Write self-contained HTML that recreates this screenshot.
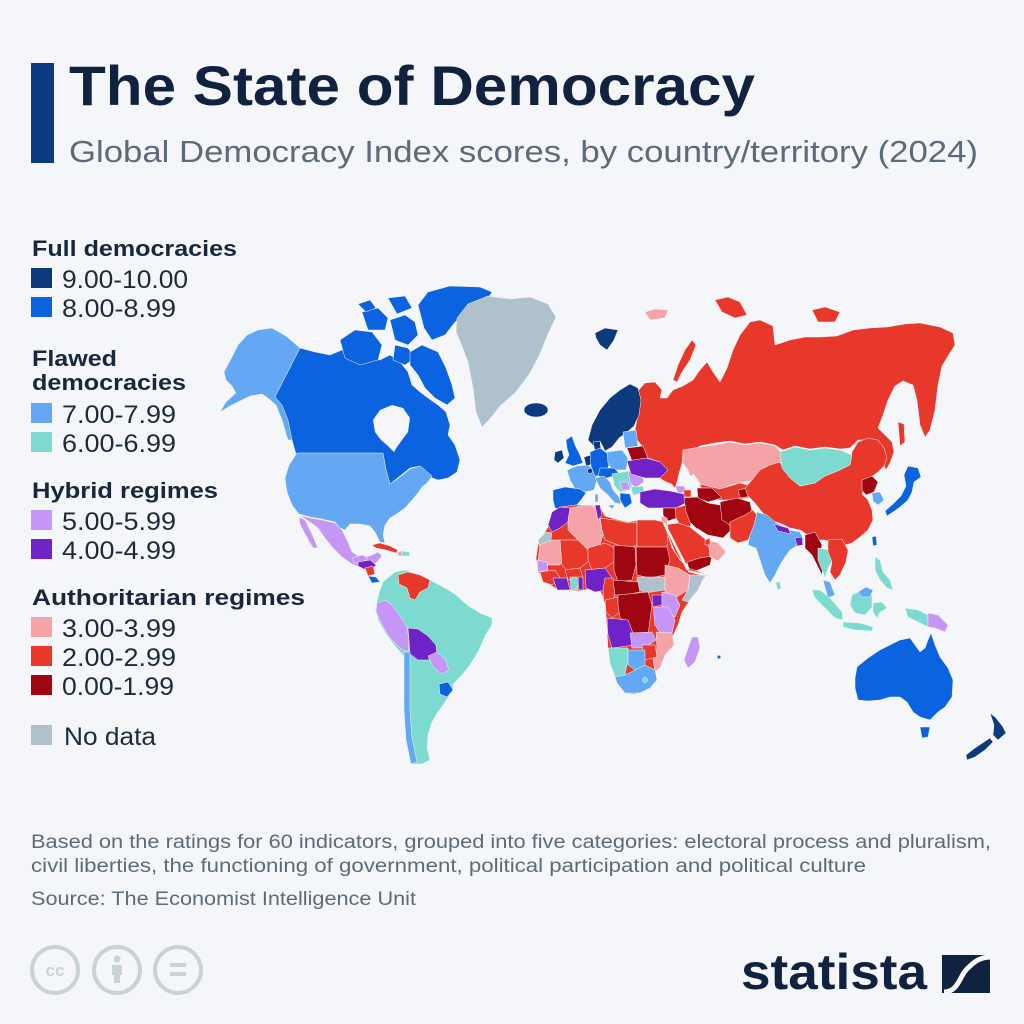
<!DOCTYPE html>
<html><head><meta charset="utf-8"><style>
html,body{margin:0;padding:0;background:#f4f6f9;}
svg{display:block;}
.a{fill:#0d3a7d}.b{fill:#0b63e0}.c{fill:#64a8f3}.d{fill:#7ddad0}.e{fill:#c596f5}.f{fill:#6f22c6}.g{fill:#f4a4a7}.h{fill:#e8382b}.i{fill:#9f0612}.n{fill:#afc1cc}.w{fill:#f4f6f9}
text{font-family:"Liberation Sans",Arial,sans-serif;}
</style></head><body>
<svg width="1024" height="1024" viewBox="0 0 1024 1024" xmlns="http://www.w3.org/2000/svg">
<rect width="1024" height="1024" fill="#f4f6f9"/>
<!-- header -->
<rect x="31" y="63" width="23" height="100" fill="#0c3a7e"/>
<text x="69" y="105" font-size="56" font-weight="bold" fill="#11223f" textLength="686" lengthAdjust="spacingAndGlyphs">The State of Democracy</text>
<text x="69" y="162" font-size="31" fill="#5b6b7c" textLength="909" lengthAdjust="spacingAndGlyphs">Global Democracy Index scores, by country/territory (2024)</text>

<!-- legend -->
<g font-weight="bold" font-size="22" fill="#18273b">
<text x="32" y="256" textLength="205" lengthAdjust="spacingAndGlyphs">Full democracies</text>
<text x="32" y="366" textLength="85" lengthAdjust="spacingAndGlyphs">Flawed</text>
<text x="32" y="390" textLength="154" lengthAdjust="spacingAndGlyphs">democracies</text>
<text x="32" y="498" textLength="186" lengthAdjust="spacingAndGlyphs">Hybrid regimes</text>
<text x="32" y="605" textLength="273" lengthAdjust="spacingAndGlyphs">Authoritarian regimes</text>
</g>
<g>
<rect x="31" y="268" width="21" height="20" class="a"/>
<rect x="31" y="297" width="21" height="20" class="b"/>
<rect x="31" y="403" width="21" height="20" class="c"/>
<rect x="31" y="432" width="21" height="20" class="d"/>
<rect x="31" y="510" width="21" height="20" class="e"/>
<rect x="31" y="539" width="21" height="20" class="f"/>
<rect x="31" y="617" width="21" height="20" class="g"/>
<rect x="31" y="646" width="21" height="20" class="h"/>
<rect x="31" y="675" width="21" height="20" class="i"/>
<rect x="31" y="725" width="21" height="20" class="n"/>
</g>
<g font-size="25" fill="#1c2b3c">
<text x="62" y="288" textLength="126" lengthAdjust="spacingAndGlyphs">9.00-10.00</text>
<text x="62" y="317" textLength="114" lengthAdjust="spacingAndGlyphs">8.00-8.99</text>
<text x="62" y="423" textLength="114" lengthAdjust="spacingAndGlyphs">7.00-7.99</text>
<text x="62" y="452" textLength="114" lengthAdjust="spacingAndGlyphs">6.00-6.99</text>
<text x="62" y="530" textLength="114" lengthAdjust="spacingAndGlyphs">5.00-5.99</text>
<text x="62" y="559" textLength="114" lengthAdjust="spacingAndGlyphs">4.00-4.99</text>
<text x="62" y="637" textLength="114" lengthAdjust="spacingAndGlyphs">3.00-3.99</text>
<text x="62" y="666" textLength="114" lengthAdjust="spacingAndGlyphs">2.00-2.99</text>
<text x="62" y="695" textLength="112" lengthAdjust="spacingAndGlyphs">0.00-1.99</text>
<text x="64" y="745" textLength="92" lengthAdjust="spacingAndGlyphs">No data</text>
</g>

<!-- map -->
<g stroke="#f4f6f9" stroke-width="0.5" stroke-linejoin="round">
<!-- North America -->
<polygon class="c" points="224,372 232,357 238,345 247,335 258,330 272,328 286,336 300,348 275,397 282,405 288,418 292,440 288,440 282,420 276,405 268,398 262,394 250,396 240,401 230,406 220,412 226,402 236,393 232,386 226,380"/>
<polygon class="b" points="275,397 300,348 315,352 330,355 342,350 355,352 368,356 380,360 390,355 400,362 408,372 412,385 420,392 428,398 438,405 446,412 450,425 448,435 455,445 460,460 457,472 448,478 438,480 430,477 425,470 420,466 410,468 400,476 390,484 386,470 383,454 296,454 292,440 288,420 282,405"/>
<polygon class="w" stroke="none" points="373,420 380,410 392,405 403,408 410,418 408,432 402,440 397,447 394,452 388,446 381,440 375,432"/>
<polygon class="b" points="340,340 355,330 372,332 382,345 378,360 360,365 345,358"/>
<polygon class="b" points="362,312 378,308 388,318 385,330 368,330"/>
<polygon class="b" points="390,320 405,315 415,322 418,335 408,345 395,340"/>
<polygon class="b" points="395,345 408,348 415,358 405,365 393,360"/>
<polygon class="b" points="358,304 370,300 376,308 366,312"/>
<polygon class="b" points="388,298 405,296 412,308 397,314"/>
<polygon class="b" points="418,305 428,292 450,286 480,287 492,292 485,303 470,312 455,322 445,335 432,340 424,328"/>
<polygon class="b" points="410,352 422,345 438,352 446,368 452,385 455,398 447,405 435,398 425,388 418,375 410,365"/>
<polygon class="n" points="457,318 468,304 488,296 510,299 530,297 548,304 556,317 548,334 540,354 530,373 516,392 500,406 489,420 482,427 476,412 473,388 468,362 462,346 456,332"/>
<ellipse class="a" cx="536" cy="410" rx="12" ry="7"/>
<polygon class="c" points="297,453 383,453 386,470 390,484 400,477 410,469 420,466 425,470 432,476 428,482 422,487 418,493 412,500 405,508 398,513 390,518 385,525 383,535 385,543 380,542 375,532 370,526 360,524 350,524 345,530 340,528 335,522 322,519 310,517 299,514 292,505 287,492 285,478 289,465"/>
<polygon class="e" points="299,515 310,518 322,520 335,523 342,530 348,542 352,552 360,557 370,556 378,552 382,556 377,562 370,566 362,568 352,564 342,557 333,548 325,538 318,528 310,522"/>
<polygon class="e" points="299,517 305,520 312,534 318,548 313,548 305,534 300,524"/>
<polygon class="e" points="352,558 362,555 368,558 362,563 354,563"/>
<polygon class="f" points="358,562 370,560 376,565 372,570 364,569 358,566"/>
<polygon class="h" points="365,568 373,566 375,574 368,576"/>
<polygon class="b" points="368,576 376,577 380,582 372,583"/>
<polygon class="h" points="372,545 380,543 390,546 398,550 396,553 386,550 376,548"/>
<polygon class="g" points="398,552 402,551 402,556 398,556"/>
<polygon class="d" points="402,551 409,552 410,556 402,556"/>
<!-- South America -->
<polygon class="d" points="383,582 395,572 405,570 418,574 430,580 445,588 455,594 467,605 480,613 492,618 492,625 486,634 478,652 470,665 462,675 453,684 453,690 445,702 438,712 432,722 428,735 427,748 430,760 422,764 412,764 408,750 406,730 406,700 407,672 404,656 395,646 386,634 378,620 376,606 379,593"/>
<polygon class="h" points="398,575 408,572 420,575 430,580 428,588 420,592 415,600 410,598 407,588 399,584"/>
<polygon class="e" points="377,603 386,600 393,606 400,616 407,627 409,640 408,652 400,648 390,638 382,625 376,612"/>
<polygon class="f" points="408,628 418,629 428,636 436,645 437,656 428,660 418,660 410,654 409,640"/>
<polygon class="e" points="428,656 437,652 445,659 449,670 442,674 433,667"/>
<polygon class="c" points="404,652 410,652 410,680 410,710 412,738 417,762 411,764 406,740 404,710 404,680"/>
<polygon class="b" points="439,684 448,682 453,690 447,697 440,694"/>
<!-- Arctic islands -->
<polygon class="a" points="595,333 605,328 618,330 614,340 607,350 600,345 596,338"/>
<polygon class="g" points="645,312 655,309 668,310 665,318 650,320"/>
<polygon class="h" points="673,380 678,365 685,350 692,340 696,345 690,360 682,372 677,382"/>
<polygon class="h" points="715,300 728,297 740,302 747,315 735,318 722,312"/>
<polygon class="h" points="812,310 825,307 840,312 835,322 818,322"/>
<!-- Russia & Asia -->
<polygon class="h" points="637,392 645,383 655,382 662,390 660,398 667,398 673,390 683,386 693,380 700,370 707,362 713,372 720,382 727,368 733,350 740,335 750,322 760,320 773,326 775,345 790,340 805,337 820,337 837,336 853,330 870,328 887,327 905,324 920,323 940,327 953,333 955,345 948,356 942,366 938,385 935,410 930,430 925,437 920,425 917,400 913,385 903,381 895,386 888,400 883,415 878,428 885,435 892,442 894,452 890,463 886,470 882,460 876,448 868,440 858,440 850,448 840,449 825,447 810,449 795,446 783,450 775,445 760,442 745,444 730,441 715,443 700,446 690,451 683,460 680,470 677,482 675,488 668,484 660,478 668,470 660,462 648,458 643,447 637,440 635,430 638,415 640,402"/>
<polygon class="h" points="898,422 904,424 905,442 900,446"/>
<polygon class="a" points="588,440 592,425 600,410 610,398 620,390 630,384 638,388 641,400 639,415 634,426 626,433 619,438 612,447 605,451 600,441 594,446"/>
<polygon class="g" points="683,450 700,447 715,445 730,442 745,445 760,443 775,446 783,455 780,465 770,470 760,478 750,481 740,483 730,485 720,490 710,490 700,487 692,480 688,470 682,462"/>
<polygon class="w" stroke="none" points="686,478 694,474 700,483 698,495 702,505 696,508 689,497 686,488"/>
<polygon class="h" points="700,484 720,489 740,483 755,487 752,497 735,500 720,500 705,498"/>
<polygon class="i" points="697,488 712,488 722,498 708,502 698,498"/>
<polygon class="i" points="738,490 748,488 752,496 740,498"/>
<polygon class="h" points="752,480 760,470 770,465 780,462 783,468 790,478 800,486 815,483 825,476 840,470 850,462 852,452 858,442 868,438 878,440 884,448 887,458 884,466 878,472 870,478 866,486 862,494 868,500 872,510 873,520 868,530 860,537 852,543 842,546 832,543 825,540 815,540 808,535 800,530 790,528 782,524 770,520 762,512 755,503 748,496 745,488"/>
<polygon class="d" points="780,452 795,447 810,450 825,448 840,450 852,455 850,465 840,470 825,476 815,483 800,486 790,478 782,468"/>
<polygon class="i" points="862,480 872,476 878,482 874,492 866,495 862,490"/>
<polygon class="c" points="872,493 880,492 884,500 878,505 873,501"/>
<polygon class="b" points="908,466 918,468 921,477 914,482 912,492 908,500 900,507 893,512 887,516 885,511 893,504 901,496 906,486 904,475"/>
<polygon class="b" points="872,537 876,536 877,545 873,546"/>
<circle class="h" cx="846" cy="552" r="2.5"/>
<!-- Europe -->
<polygon class="a" points="593,442 600,441 601,450 595,451"/>
<polygon class="b" points="566,440 572,436 575,445 580,455 583,463 573,466 565,463 569,455 567,448"/>
<polygon class="a" points="555,452 562,450 564,458 558,463 554,460"/>
<polygon class="c" points="567,470 577,466 588,465 595,470 597,480 594,490 585,492 575,489 570,480"/>
<polygon class="b" points="553,490 565,487 580,489 586,493 581,500 575,507 565,510 555,508 553,500"/>
<polygon class="a" points="584,457 591,455 593,464 586,466"/>
<polygon class="b" points="590,452 600,448 607,453 609,465 605,475 595,476 591,466"/>
<circle class="a" cx="590" cy="471" r="2.5"/>
<polygon class="c" points="607,452 622,450 628,458 626,470 612,470 608,463"/>
<polygon class="b" points="600,468 614,468 620,474 607,478 598,476"/>
<polygon class="c" points="595,478 604,476 610,482 613,490 619,497 621,504 615,503 608,495 600,488"/>
<polygon class="c" points="595,494 598,494 598,502 595,502"/>
<polygon class="c" points="608,505 615,505 612,509"/>
<polygon class="d" points="612,474 628,471 634,480 630,490 620,492 614,485"/>
<polygon class="e" points="628,471 641,472 644,482 635,488 630,482"/>
<polygon class="e" points="620,482 628,482 630,490 622,490"/>
<polygon class="d" points="631,487 643,486 644,493 633,495"/>
<polygon class="b" points="620,493 630,494 632,503 625,508 620,500"/>
<polygon class="c" points="623,432 636,430 638,446 625,448"/>
<polygon class="i" points="627,448 643,446 648,458 632,461"/>
<polygon class="f" points="627,461 646,458 660,462 668,470 660,478 645,478 631,474"/>
<polygon class="w" stroke="none" points="645,480 660,479 672,484 676,490 665,491 650,490 644,486"/>
<polygon class="f" points="640,492 655,489 670,491 684,494 686,503 676,508 660,508 648,508 640,503"/>
<polygon class="e" points="675,486 684,486 687,492 678,493"/>
<polygon class="h" points="684,490 691,490 691,497 684,497"/>
<!-- Middle East / South Asia -->
<polygon class="i" points="663,508 675,508 677,518 668,521 663,515"/>
<polygon class="h" points="675,508 686,505 693,517 690,527 680,525 676,518"/>
<polygon class="i" points="684,498 697,497 708,503 720,505 727,515 731,530 723,538 708,535 698,530 690,522 686,512"/>
<polygon class="h" points="664,525 678,523 690,527 700,535 710,543 713,555 700,560 690,565 682,562 675,552 670,540"/>
<polygon class="w" stroke="none" points="697,528 708,535 712,542 705,538 697,532"/>
<polygon class="i" points="687,562 700,558 712,556 710,565 698,570 690,572"/>
<polygon class="g" points="708,540 718,543 726,552 718,561 710,557"/>
<polygon class="h" points="705,540 710,538 710,545 705,545"/>
<polygon class="g" points="661,516 667,518 668,528 663,528"/>
<polygon class="i" points="720,502 737,498 750,502 752,512 742,520 730,525 722,520"/>
<polygon class="h" points="730,522 745,515 753,510 759,518 753,530 748,540 738,543 730,538"/>
<polygon class="c" points="757,512 767,515 775,522 790,530 800,532 804,540 798,545 790,550 785,557 780,565 775,575 770,583 765,575 760,560 756,548 748,545 750,535 754,525"/>
<polygon class="f" points="774,524 788,528 791,534 778,531"/>
<polygon class="f" points="795,538 802,537 803,545 797,546"/>
<polygon class="d" points="776,582 780,582 781,589 777,589"/>
<polygon class="i" points="805,535 815,532 822,545 820,555 823,565 822,575 817,565 812,555 805,548"/>
<polygon class="d" points="818,548 830,550 833,560 828,568 825,578 822,570 818,560"/>
<polygon class="h" points="828,540 842,539 848,550 846,562 840,575 835,580 830,572 832,562 828,552"/>
<polygon class="c" points="823,580 830,582 835,595 828,598"/>
<polygon class="d" points="812,590 820,590 830,598 842,612 843,620 835,618 825,608 815,598"/>
<polygon class="d" points="843,622 860,623 873,627 872,631 855,630 843,627"/>
<polygon class="d" points="852,595 862,590 872,595 872,607 865,615 855,613 850,605"/>
<polygon class="c" points="858,592 866,587 873,590 870,597 862,597"/>
<polygon class="d" points="873,603 882,602 887,608 880,612 877,618 873,612"/>
<polygon class="d" points="875,557 880,560 883,572 890,580 893,590 887,588 880,580 875,570"/>
<polygon class="d" points="905,608 918,610 928,615 928,627 918,622 908,617"/>
<polygon class="e" points="928,613 938,615 948,625 945,632 935,628 928,627"/>
<!-- Oceania -->
<polygon class="b" points="857,667 868,658 880,650 890,645 900,640 910,638 915,645 920,652 925,648 928,640 931,633 935,645 940,657 948,668 953,680 952,697 945,707 938,712 930,720 920,717 913,712 907,702 900,697 890,697 880,700 868,701 858,700 855,688 855,678"/>
<polygon class="b" points="920,727 930,727 928,737 922,738"/>
<polygon class="a" points="990,713 996,718 1003,727 1006,733 998,740 993,735 994,725"/>
<polygon class="a" points="990,738 993,742 985,750 975,757 967,760 966,755 975,748 984,742"/>
<circle class="b" cx="719" cy="657" r="1.8"/>
<!-- Africa -->
<polygon class="h" points="552,512 560,507 575,505 590,505 600,507 605,516 615,519 628,522 640,520 655,520 663,522 668,535 672,548 680,560 688,568 700,572 706,575 698,588 690,600 682,612 678,625 672,638 665,650 660,660 652,675 645,688 635,694 625,693 617,683 612,668 608,650 607,630 606,615 605,600 600,591 590,589 578,591 565,590 555,588 545,581 538,571 536,558 538,545 543,535 550,524"/>
<polygon class="f" points="552,512 560,507 570,508 575,515 568,522 560,528 552,532 548,525"/>
<polygon class="g" points="570,508 585,505 598,507 600,520 603,535 600,545 588,550 578,540 568,530 568,520"/>
<polygon class="f" points="595,505 600,505 602,515 598,520"/>
<polygon class="h" points="600,518 615,520 628,523 637,522 637,545 630,548 618,545 605,540 602,530"/>
<polygon class="h" points="637,520 655,520 663,522 668,535 667,547 637,547"/>
<polygon class="n" points="538,540 546,532 552,533 550,545 540,548"/>
<polygon class="g" points="540,545 552,540 560,540 565,555 560,565 548,565 538,562"/>
<polygon class="h" points="560,540 578,540 588,550 590,560 580,568 568,572 562,565"/>
<polygon class="h" points="588,548 605,543 615,548 614,562 605,568 592,570 588,560"/>
<polygon class="i" points="614,545 635,547 636,565 632,580 618,582 614,570"/>
<polygon class="i" points="636,547 667,547 670,560 665,575 650,578 637,575"/>
<polygon class="n" points="637,577 665,577 665,590 645,593 637,588"/>
<polygon class="g" points="665,565 678,568 690,575 688,590 675,598 665,592"/>
<polygon class="n" points="690,575 705,575 698,590 688,602 682,600 688,590"/>
<polygon class="e" points="537,560 547,562 548,570 538,572"/>
<polygon class="h" points="540,572 555,570 560,578 552,585 543,582"/>
<polygon class="h" points="565,570 580,568 583,578 568,580"/>
<polygon class="f" points="553,578 567,578 570,590 557,590"/>
<polygon class="d" points="570,577 577,577 578,590 571,590"/>
<polygon class="f" points="578,577 583,577 583,590 579,590"/>
<polygon class="f" points="585,570 605,568 612,578 607,590 595,592 586,588"/>
<polygon class="h" points="605,578 613,578 615,595 610,605 604,602 603,590"/>
<polygon class="i" points="613,580 638,582 640,592 625,595 615,595"/>
<polygon class="h" points="605,600 618,597 620,612 612,618 606,612"/>
<polygon class="i" points="618,595 648,592 652,605 650,620 648,635 633,633 628,622 620,618 618,605"/>
<polygon class="f" points="652,595 662,595 662,605 653,607"/>
<polygon class="e" points="662,592 675,595 680,605 675,617 665,615 662,605"/>
<polygon class="e" points="653,607 668,607 675,620 672,633 660,633 655,625"/>
<polygon class="f" points="607,618 628,620 633,633 635,645 612,648 608,635"/>
<polygon class="e" points="630,633 652,632 656,640 645,648 632,648"/>
<polygon class="g" points="656,632 672,633 674,645 665,655 660,668 655,672 653,660 657,648"/>
<polygon class="h" points="642,645 655,645 657,657 645,660"/>
<polygon class="d" points="608,648 628,648 628,660 625,675 615,677 610,663"/>
<polygon class="c" points="628,650 645,650 645,665 635,670 628,665"/>
<polygon class="c" points="615,677 625,675 635,670 645,665 655,670 657,680 650,688 640,693 625,693 617,683"/>
<circle class="d" cx="645" cy="680" r="2.5"/>
<polygon class="e" points="692,637 698,637 700,648 695,662 688,668 684,660 688,648"/>
</g>
<line x1="664" y1="523" x2="688" y2="570" stroke="#f4f6f9" stroke-width="2.5"/>
<line x1="688" y1="571" x2="705" y2="575" stroke="#f4f6f9" stroke-width="2"/>

<!-- footer -->
<g font-size="19" fill="#5d6b78">
<text x="31" y="848" textLength="960" lengthAdjust="spacingAndGlyphs">Based on the ratings for 60 indicators, grouped into five categories: electoral process and pluralism,</text>
<text x="31" y="872" textLength="835" lengthAdjust="spacingAndGlyphs">civil liberties, the functioning of government, political participation and political culture</text>
<text x="31" y="905" textLength="385" lengthAdjust="spacingAndGlyphs">Source: The Economist Intelligence Unit</text>
</g>

<!-- CC icons -->
<g fill="none" stroke="#c9d1d9" stroke-width="4">
<circle cx="55" cy="970" r="23"/>
<circle cx="117" cy="970" r="23"/>
<circle cx="178" cy="970" r="23"/>
</g>
<text x="55" y="976" font-size="17" font-weight="bold" fill="#c9d1d9" text-anchor="middle">cc</text>
<circle cx="117" cy="959" r="3.5" fill="#c9d1d9"/>
<rect x="112" y="965" width="10" height="10" fill="#c9d1d9"/>
<rect x="114" y="974" width="6" height="9" fill="#c9d1d9"/>
<rect x="170" y="963" width="16" height="4" fill="#c9d1d9"/>
<rect x="170" y="972" width="16" height="4" fill="#c9d1d9"/>

<!-- statista logo -->
<text x="741" y="989" font-size="50" font-weight="bold" fill="#0f2240" textLength="186" lengthAdjust="spacingAndGlyphs">statista</text>
<rect x="942" y="955" width="48" height="38" fill="#0f2240"/>
<path d="M944 992 C958 992 960 976 966 970 S978 957 991 957" fill="none" stroke="#f4f6f9" stroke-width="5"/>
</svg>
</body></html>
